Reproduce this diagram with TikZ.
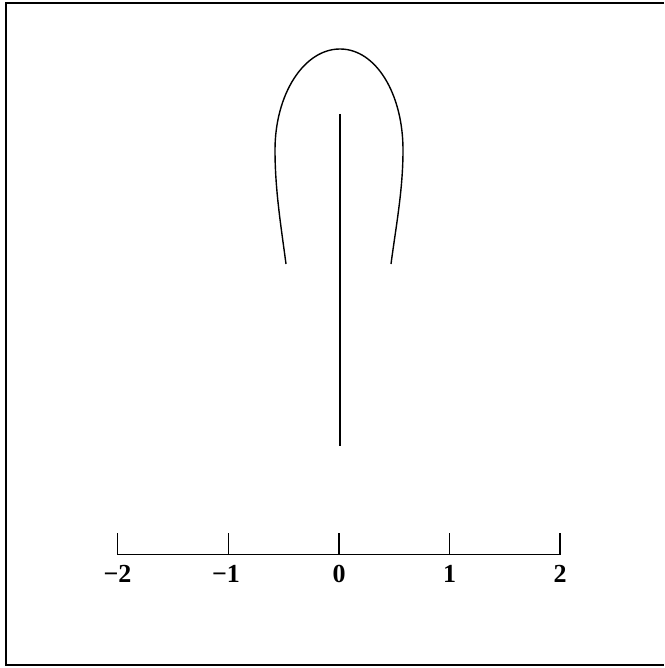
\documentclass[tikz,border=0pt]{standalone}
\usepackage{fontspec}
\setmainfont{Liberation Serif}
\begin{document}
\begin{tikzpicture}[x=1pt,y=-1pt,
  frame/.style={line width=1.3pt},
  curveline/.style={line width=1.4pt, line join=round},
  axisline/.style={line width=1.2pt},
  ticklabel/.style={font=\fontsize{26}{29}\selectfont\bfseries, inner sep=0pt, anchor=center}]
\useasboundingbox (0,0) rectangle (664,668);
% frame (left, top, bottom; right side open)
\coordinate (ftr) at (664,3);
\coordinate (ftl) at (6,3);
\coordinate (fbl) at (6,665);
\coordinate (fbr) at (664,665);
\draw[frame] (ftr) -- (ftl) -- (fbl) -- (fbr);
% curve
\coordinate (cl) at (286,264);
\coordinate (cw) at (275,150);
\coordinate (ctop) at (340,49);
\coordinate (ce) at (403,150);
\coordinate (cr) at (391,264);
\draw[curveline] (cl) .. controls (281,226) and (275,190) .. (cw)
  .. controls (275,94) and (304,49) .. (ctop)
  .. controls (376,49) and (403,94) .. (ce)
  .. controls (403,190) and (396,226) .. (cr);
% vertical line
\coordinate (vt) at (340,114);
\coordinate (vb) at (340,446);
\draw[axisline] (vt) -- (vb);
% axis
\foreach \v/\x/\lx/\lab in {-2/117.5/117.5/−2, -1/228.3/226/−1, 0/339/339/0, 1/449.5/449.5/1, 2/560/560/2}{
  \coordinate (t\v) at (\x,533);
  \coordinate (b\v) at (\x,554.5);
  \draw[axisline] (t\v) -- (b\v);
  \node[ticklabel] (l\v) at (\lx,574) {\lab};
}
\draw[axisline] (b-2) -- (b2);
\end{tikzpicture}
\end{document}
